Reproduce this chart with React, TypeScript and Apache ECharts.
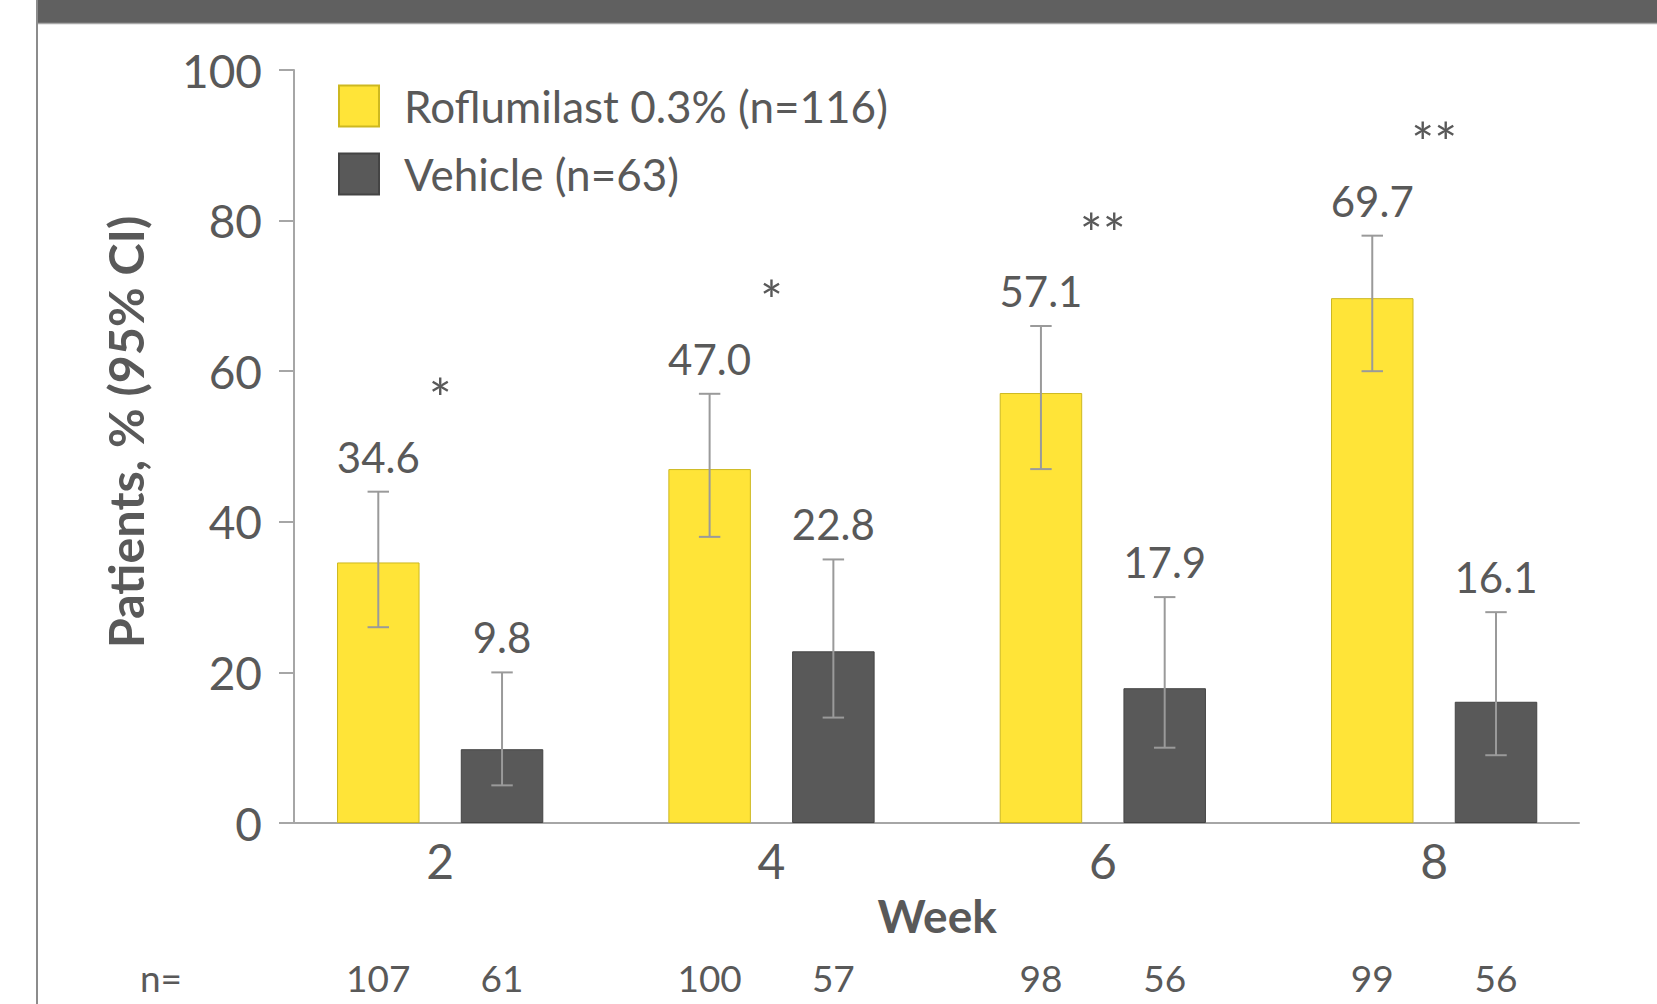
import React, { useEffect, useRef } from "react";
import * as echarts from "echarts";

const weeks = ["2", "4", "6", "8"];
const roflumilast = [34.6, 47.0, 57.1, 69.7];
const vehicle = [9.8, 22.8, 17.9, 16.1];
const roflumilastLower = [26, 38, 47, 60];
const roflumilastUpper = [44, 57, 66, 78];
const vehicleLower = [5, 14, 10, 9];
const vehicleUpper = [20, 35, 30, 28];
const roflumilastN = [107, 100, 98, 99];
const vehicleN = [61, 57, 56, 56];
const significance = ["*", "*", "**", "**"];
const seriesNames = ["Roflumilast 0.3% (n=116)", "Vehicle (n=63)"];

const TEXT = "#595959";
const YELLOW = "#FFE438";
const DARK = "#595959";
const AXIS = "#A6A6A6";
const ERR = "#9A9A9A";
const FONT = "Lato";
const BAR_RATIO = 0.249;

export default function App() {
  const ref = useRef<HTMLDivElement>(null);
  useEffect(() => {
    if (!ref.current) return;
    const chart = echarts.init(ref.current, null, { renderer: "svg" });

    const errData: any[] = [];
    weeks.forEach((_, i) => {
      errData.push([i, roflumilastLower[i], roflumilastUpper[i], roflumilast[i], -1, roflumilastN[i]]);
      errData.push([i, vehicleLower[i], vehicleUpper[i], vehicle[i], 1, vehicleN[i]]);
    });
    const sigData = weeks.map((_, i) => [i, roflumilastUpper[i]]);

    const option: any = {
      animation: false,
      graphic: [
        { type: "rect", shape: { x: 36, y: 0, width: 1621, height: 23 }, style: { fill: "#606060" } },
        { type: "line", shape: { x1: 36, y1: 23.5, x2: 1657, y2: 23.5 }, style: { stroke: "#A8A8A8", lineWidth: 1.5 } },
        { type: "rect", shape: { x: 36, y: 0, width: 2, height: 1004 }, style: { fill: "#8C8C8C" } },
        {
          type: "text",
          x: 125,
          y: 432,
          rotation: Math.PI / 2,
          style: {
            text: "Patients, % (95% CI)",
            fill: TEXT,
            font: `bold 48.5px ${FONT}`,
            align: "center",
            verticalAlign: "middle",
            textAlign: "center",
            textVerticalAlign: "middle",
          },
        },
        {
          type: "text",
          x: 161,
          y: 977,
          style: {
            text: "n=",
            fill: TEXT,
            font: `37px ${FONT}`,
            align: "center",
            verticalAlign: "middle",
            textAlign: "center",
            textVerticalAlign: "middle",
          },
        },
      ],
      legend: {
        orient: "vertical",
        left: 338,
        top: 84,
        padding: 0,
        itemWidth: 40,
        itemHeight: 41,
        itemGap: 24,
        icon: "rect",
        data: seriesNames,
        textStyle: { fontSize: 44, color: TEXT, fontFamily: FONT, padding: [0, 0, 0, 20], lineHeight: 41 },
      },
      grid: [
        { left: 274.5, width: 1325.3, top: 70, height: 753 },
        { left: 294, width: 1285, top: 70, height: 753 },
      ],
      xAxis: [
        {
          type: "category",
          gridIndex: 0,
          data: weeks,
          axisLine: { show: false },
          axisTick: { show: false },
          axisLabel: { fontSize: 48, color: TEXT, fontFamily: FONT, margin: 13 },
          name: "Week",
          nameLocation: "middle",
          nameGap: 69,
          nameTextStyle: { fontSize: 46, fontWeight: "bold", color: TEXT, fontFamily: FONT },
        },
        {
          type: "value",
          gridIndex: 1,
          min: 0,
          max: 1,
          axisLine: { show: true, lineStyle: { color: AXIS, width: 2 } },
          axisTick: { show: false },
          axisLabel: { show: false },
          splitLine: { show: false },
        },
      ],
      yAxis: [
        { type: "value", gridIndex: 0, min: 0, max: 100, interval: 20, show: false, splitLine: { show: false } },
        {
          type: "value",
          gridIndex: 1,
          min: 0,
          max: 100,
          interval: 20,
          axisLine: { show: true, lineStyle: { color: AXIS, width: 2 } },
          axisTick: { show: true, length: 15, lineStyle: { color: AXIS, width: 2 } },
          axisLabel: { fontSize: 46, color: TEXT, fontFamily: FONT, margin: 32 },
          splitLine: { show: false },
        },
      ],
      series: [
        {
          name: seriesNames[0],
          type: "bar",
          xAxisIndex: 0,
          yAxisIndex: 0,
          data: roflumilast,
          barWidth: `${BAR_RATIO * 100}%`,
          barGap: "50%",
          itemStyle: { color: YELLOW, borderColor: "#CDB820", borderWidth: 1 },
          silent: true,
        },
        {
          name: seriesNames[1],
          type: "bar",
          xAxisIndex: 0,
          yAxisIndex: 0,
          data: vehicle,
          barWidth: `${BAR_RATIO * 100}%`,
          barGap: "50%",
          itemStyle: { color: DARK, borderColor: "#444444", borderWidth: 1 },
          silent: true,
        },
        {
          type: "custom",
          xAxisIndex: 0,
          yAxisIndex: 0,
          silent: true,
          z: 5,
          encode: { x: 0, y: 2 },
          data: errData,
          renderItem: (params: any, api: any) => {
            const i = api.value(0);
            const lo = api.value(1);
            const hi = api.value(2);
            const val = api.value(3);
            const side = api.value(4);
            const n = api.value(5);
            const band = api.size([1, 0])[0];
            const bw = band * BAR_RATIO;
            const x = api.coord([i, 0])[0] + side * bw * 0.75;
            const yLo = api.coord([i, lo])[1];
            const yHi = api.coord([i, hi])[1];
            const y0 = api.coord([i, 0])[1];
            const cap = bw * 0.13;
            const ls = { stroke: ERR, lineWidth: 2 };
            return {
              type: "group",
              children: [
                { type: "line", shape: { x1: x, y1: yLo, x2: x, y2: yHi }, style: ls },
                { type: "line", shape: { x1: x - cap, y1: yHi, x2: x + cap, y2: yHi }, style: ls },
                { type: "line", shape: { x1: x - cap, y1: yLo, x2: x + cap, y2: yLo }, style: ls },
                {
                  type: "text",
                  x,
                  y: yHi - 35,
                  style: {
                    text: Number(val).toFixed(1),
                    fill: TEXT,
                    font: `42px ${FONT}`,
                    align: "center",
                    verticalAlign: "middle",
                    textAlign: "center",
                    textVerticalAlign: "middle",
                  },
                },
                {
                  type: "text",
                  x,
                  y: y0 + 154,
                  style: {
                    text: String(n),
                    fill: TEXT,
                    font: `37px ${FONT}`,
                    align: "center",
                    verticalAlign: "middle",
                    textAlign: "center",
                    textVerticalAlign: "middle",
                  },
                },
              ],
            };
          },
        },
        {
          type: "custom",
          xAxisIndex: 0,
          yAxisIndex: 0,
          silent: true,
          z: 5,
          encode: { x: 0, y: 1 },
          data: sigData,
          renderItem: (params: any, api: any) => {
            const i = api.value(0);
            const hi = api.value(1);
            const p = api.coord([i, hi]);
            return {
              type: "text",
              x: p[0],
              y: p[1] - 94,
              style: {
                text: significance[params.dataIndex],
                fill: TEXT,
                font: `54px ${FONT}`,
                align: "center",
                verticalAlign: "middle",
                textAlign: "center",
                textVerticalAlign: "middle",
              },
            };
          },
        },
      ],
    };
    chart.setOption(option);
    return () => chart.dispose();
  }, []);
  return (
    <div
      ref={ref}
      style={{ position: "fixed", left: 0, top: 0, width: 1657, height: 1004, background: "#fff" }}
    />
  );
}
